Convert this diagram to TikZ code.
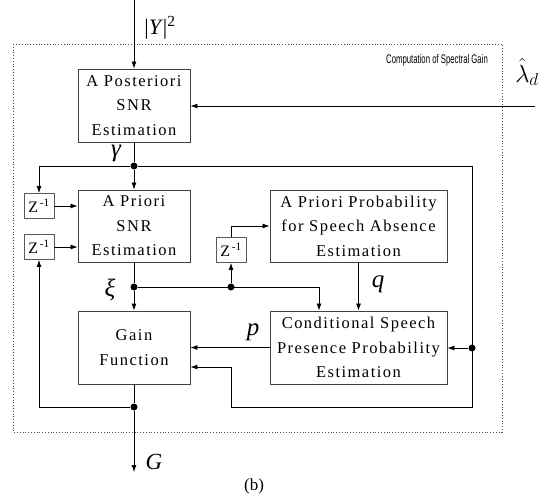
\documentclass[tikz,border=0pt]{standalone}
\usepackage{fontspec}
\usepackage{graphicx}
\setmainfont{Liberation Serif}
\newfontfamily\labelfont{Liberation Sans}
\newfontfamily\boxfont[LetterSpace=9]{Liberation Serif}
\usetikzlibrary{arrows.meta}

\begin{document}
\begin{tikzpicture}[x=1pt,y=-1pt]
  \tikzset{block/.style={draw=black!75, line width=0.9pt, align=center, inner sep=0pt,
                         font=\boxfont\fontsize{16.5}{24.5}\selectfont},
           delay/.style={draw=black!65, line width=0.9pt, minimum width=30pt, minimum height=25pt,
                         inner sep=0pt, font=\fontsize{16}{16}\selectfont},
           dot/.style={circle, fill=black, inner sep=0pt, minimum size=7pt},
           sig/.style={inner sep=0.5pt, font=\itshape\fontsize{25}{25}\selectfont},
           line/.style={draw=black, line width=0.8pt},
           arr/.style={line, -{Latex[length=7pt,width=5pt]}}};
  \useasboundingbox (0,0) rectangle (548,497);

  % frame of the gain computation
  \draw[dotted, line width=0.8pt, black!70] (13,44) rectangle (502,432);
  \node[font=\labelfont\fontsize{12.5}{14}\selectfont] (title) at (437,60) {\scalebox{0.62}[1]{Computation of Spectral Gain}};

  % blocks
  \node[block, minimum width=112pt, minimum height=73pt] (post) at (134,105.5) {A Posteriori\\SNR\\Estimation};
  \node[block, minimum width=112pt, minimum height=72pt] (prio) at (134,226) {A Priori\\SNR\\Estimation};
  \node[block, minimum width=112pt, minimum height=73pt] (gain) at (134,347.5) {Gain\\Function};
  \node[block, minimum width=177pt, minimum height=72pt] (prob) at (358.5,226) {A Priori Probability\\for Speech Absence\\Estimation};
  \node[block, minimum width=177pt, minimum height=73pt] (cond) at (358.5,347.5) {Conditional Speech\\Presence Probability\\Estimation};
  \node[delay] (z1) at (39,206) {Z\textsuperscript{\,-1}};
  \node[delay] (z2) at (39,247) {Z\textsuperscript{\,-1}};
  \node[delay] (z3) at (231,250) {Z\textsuperscript{\,-1}};

  % junctions
  \coordinate (yin) at (134,0);
  \coordinate (lam) at (535,106);
  \coordinate (out) at (134,472);
  \coordinate (c1) at (472,407);
  \coordinate (c2) at (231,367);
  \node[dot] (g) at (134,166) {};
  \node[dot] (x) at (134,287) {};
  \node[dot] (x2) at (231,287) {};
  \node[dot] (r) at (472,348) {};
  \node[dot] (o) at (134,407) {};

  % signal labels
  \node[font=\fontsize{22}{22}\selectfont] (ylab) at (160,28) {|\textit{Y}|\textsuperscript{2}};
  \node[inner sep=0pt, font=\fontsize{24}{24}\selectfont] (lamlab) at (527,72) {$\hat{\lambda}_d$};
  \node[sig] (glab) at (116,153) {γ};
  \node[sig] (xlab) at (110,290) {ξ};
  \node[sig] (plab) at (253,332) {p};
  \node[sig] (qlab) at (378,284) {q};
  \node[sig, font=\itshape\fontsize{23}{23}\selectfont] (Glab) at (154,462) {G};
  \node[font=\fontsize{17}{17}\selectfont] (b) at (254,486) {(b)};

  % connections
  \draw[arr] (yin) -- (post);
  \draw[arr] (lam) -- (lam -| post.east);
  \draw[line] (post) -- (g);
  \draw[arr] (g) -- (prio);
  \draw[arr] (g) -| (z1);
  \draw[arr] (g) -| (c1) -| (c2) -- (c2 -| gain.east);
  \draw[arr] (r) -- (r -| cond.east);
  \draw[arr] (z1) -- (z1 -| prio.west);
  \draw[arr] (z2) -- (z2 -| prio.west);
  \draw[line] (prio) -- (x);
  \draw[arr] (x) -- (gain);
  \draw[arr] (x) -| ([xshift=-39.5pt]cond.north);
  \draw[arr] (x2) -- (z3);
  \draw[arr] (z3) |- (prob.west);
  \draw[arr] (prob) -- (cond);
  \draw[arr] (cond) -- (gain);
  \draw[line] (gain) -- (o);
  \draw[arr] (o) -- (out);
  \draw[arr] (o) -| (z2);
\end{tikzpicture}
\end{document}
